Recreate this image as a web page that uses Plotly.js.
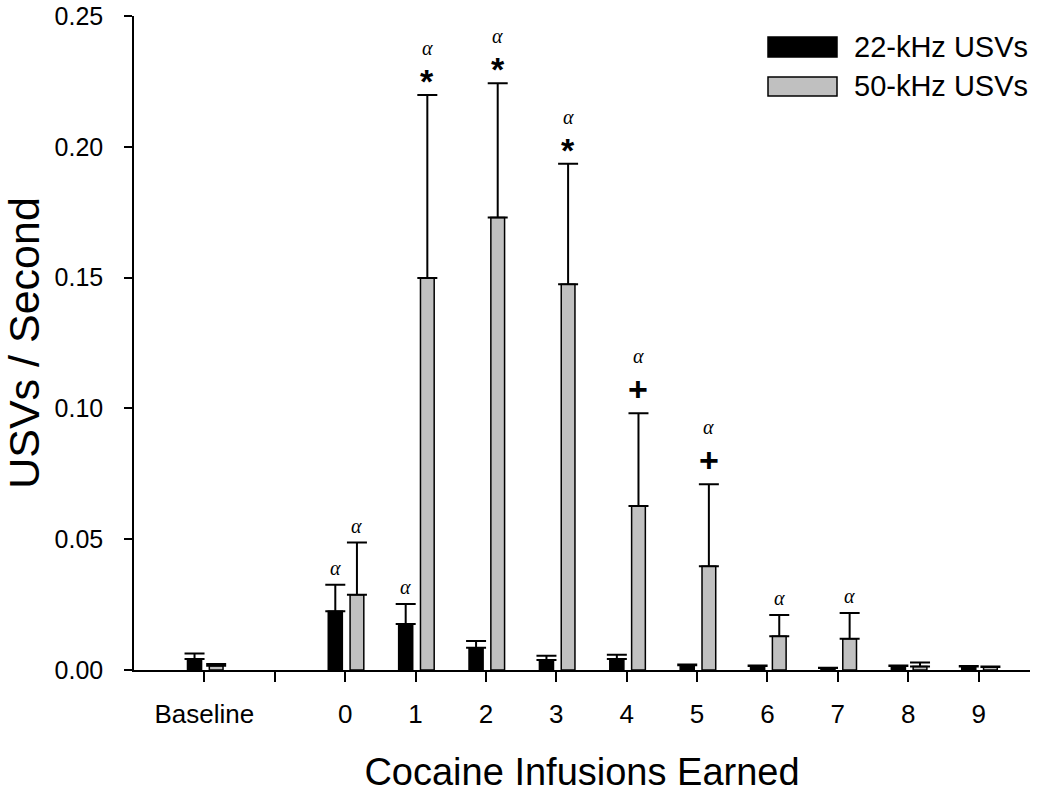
<!DOCTYPE html>
<html>
<head>
<meta charset="utf-8">
<script src="https://cdn.plot.ly/plotly-3.0.1.min.js"></script>
<style>
html,body{margin:0;padding:0;background:#fff;}
#chart{width:1050px;height:793px;}
</style>
</head>
<body>
<div id="chart"></div>
<script>
// ---- data ----
var categories = ['Baseline', '0', '1', '2', '3', '4', '5', '6', '7', '8', '9'];
var usv22 = [0.0042, 0.0225, 0.0176, 0.0085, 0.0038, 0.0042, 0.0018, 0.0015, 0.0008, 0.0015, 0.0013];
var usv22Err = [0.0021, 0.0101, 0.0076, 0.0026, 0.0016, 0.0016, 0.0003, 0.0002, 0.0001, 0.0002, 0.0002];
var usv50 = [0.0016, 0.0288, 0.1498, 0.1730, 0.1475, 0.0627, 0.0397, 0.0129, 0.0119, 0.0013, 0.0011];
var usv50Err = [0.0007, 0.0199, 0.0700, 0.0513, 0.0460, 0.0354, 0.0313, 0.0081, 0.0099, 0.0016, 0.0002];
var alpha22 = [false, true, true, false, false, false, false, false, false, false, false];
var alpha50 = [false, true, true, true, true, true, true, true, true, false, false];
var sig50 = ['', '', '*', '*', '*', '+', '+', '', '', '', ''];
var seriesNames = ['22-kHz USVs', '50-kHz USVs'];
var yTicks = [0, 0.05, 0.10, 0.15, 0.20, 0.25];
var yTickText = ['0.00', '0.05', '0.10', '0.15', '0.20', '0.25'];

(function () {
  var pos = categories.map(function (c, i) { return i === 0 ? 0 : i + 1; });
  var tickPos = [], tickText = [];
  for (var t = 0; t <= pos[pos.length - 1]; t++) {
    tickPos.push(t);
    var k = pos.indexOf(t);
    tickText.push(k >= 0 ? categories[k] : ' ');
  }
  var W22 = 0.2, OFF22 = -0.24, W50 = 0.195, OFF50 = 0.07;
  var FONT = 'Liberation Sans, Arial, sans-serif';

  var zeros = usv22.map(function () { return 0; });
  var trace22 = {
    type: 'bar', x: pos, y: usv22, name: seriesNames[0],
    width: W22, offset: OFF22,
    marker: {color: '#000000', line: {color: '#000000', width: 1.5}},
    error_y: {type: 'data', array: usv22Err, symmetric: false, arrayminus: zeros,
              color: '#000000', thickness: 2, width: 10},
    showlegend: false
  };
  var trace50 = {
    type: 'bar', x: pos, y: usv50, name: seriesNames[1],
    width: W50, offset: OFF50,
    marker: {color: '#c0c0c0', line: {color: '#000000', width: 1.5}},
    error_y: {type: 'data', array: usv50Err, symmetric: false, arrayminus: zeros,
              color: '#000000', thickness: 2, width: 10},
    showlegend: false
  };

  var annotations = [];
  var alphaFont = {family: 'Liberation Serif, Times New Roman, serif', size: 20, color: '#000'};
  var symFont = {family: FONT, size: 34, color: '#000'};
  for (var i = 0; i < categories.length; i++) {
    var c22 = pos[i] + OFF22 + W22 / 2, c50 = pos[i] + OFF50 + W50 / 2;
    if (alpha22[i]) {
      annotations.push({x: c22, y: usv22[i] + usv22Err[i], xref: 'x', yref: 'y', text: '<i>α</i>',
        showarrow: false, yanchor: 'middle', yshift: 17, font: alphaFont});
    }
    if (alpha50[i]) {
      var yTop = usv50[i] + usv50Err[i];
      if (sig50[i]) {
        var sh = sig50[i] === '*' ? 35 : 45;
        annotations.push({x: c50, y: yTop, xref: 'x', yref: 'y', text: '<i>α</i>',
          showarrow: false, yanchor: 'bottom', yshift: sh, borderpad: 0, font: alphaFont});
        annotations.push({x: c50, y: yTop, xref: 'x', yref: 'y', text: '<b>' + sig50[i] + '</b>',
          showarrow: false, yanchor: 'top', yshift: sh - 1, borderpad: 0, font: symFont});
      } else {
        annotations.push({x: c50, y: yTop, xref: 'x', yref: 'y', text: '<i>α</i>',
          showarrow: false, yanchor: 'middle', yshift: 17, font: alphaFont});
      }
    }
  }

  var L = 134, R = 1030, T = 16, B = 670;
  function px(x) { return (x - L) / (R - L); }
  function py(y) { return (B - y) / (B - T); }
  var shapes = [
    {type: 'rect', xref: 'paper', yref: 'paper', x0: px(768), x1: px(837), y0: py(57), y1: py(37),
     fillcolor: '#000000', line: {color: '#000000', width: 1.5}},
    {type: 'rect', xref: 'paper', yref: 'paper', x0: px(768), x1: px(837), y0: py(96), y1: py(77),
     fillcolor: '#c0c0c0', line: {color: '#000000', width: 1.5}}
  ];
  annotations.push({xref: 'paper', yref: 'paper', x: px(852), y: py(47), xanchor: 'left', yanchor: 'middle',
    text: seriesNames[0], showarrow: false, font: {family: FONT, size: 29, color: '#000'}});
  annotations.push({xref: 'paper', yref: 'paper', x: px(852), y: py(86), xanchor: 'left', yanchor: 'middle',
    text: seriesNames[1], showarrow: false, font: {family: FONT, size: 29, color: '#000'}});

  var layout = {
    width: 1050, height: 793,
    margin: {l: L, r: 1050 - R, t: T, b: 793 - B},
    paper_bgcolor: '#ffffff', plot_bgcolor: '#ffffff',
    font: {family: FONT, color: '#000'},
    showlegend: false,
    xaxis: {
      range: [-1, 11.73], tickmode: 'array', tickvals: tickPos, ticktext: tickText,
      ticks: 'outside', ticklen: 10, tickwidth: 1.5, tickcolor: '#000',
      ticklabelstandoff: 10,
      showline: true, linecolor: '#000', linewidth: 1.5, showgrid: false, zeroline: false,
      tickfont: {family: FONT, size: 26, color: '#000'},
      title: {text: 'Cocaine Infusions Earned', font: {family: FONT, size: 38, color: '#000'}, standoff: 33}
    },
    yaxis: {
      range: [0, 0.25], tickmode: 'array', tickvals: yTicks, ticktext: yTickText,
      ticks: 'outside', ticklen: 8, tickwidth: 1.5, tickcolor: '#000',
      ticklabelstandoff: 16, ticklabeloverflow: 'allow',
      showline: true, linecolor: '#000', linewidth: 1.5, showgrid: false, zeroline: false,
      tickfont: {family: FONT, size: 25, color: '#000'},
      title: {text: 'USVs / Second', font: {family: FONT, size: 43, color: '#000'}, standoff: 2}
    },
    shapes: shapes,
    annotations: annotations
  };

  Plotly.newPlot('chart', [trace22, trace50], layout, {displayModeBar: false});
})();
</script>
</body>
</html>
